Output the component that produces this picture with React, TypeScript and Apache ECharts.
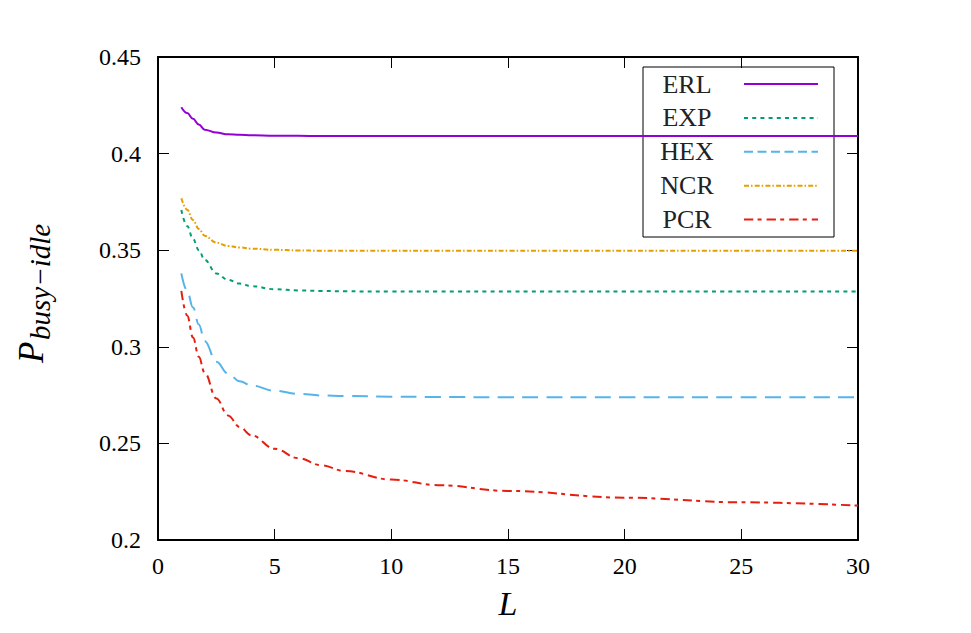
import React, { useEffect, useRef } from "react";
import * as echarts from "echarts";

const L = [1, 1.25, 1.5, 1.75, 2, 2.5, 3, 3.5, 4, 5, 6, 7, 8, 10, 12, 15, 20, 25, 30];
const ERL = [0.424, 0.421, 0.418, 0.415, 0.4124, 0.4109, 0.41, 0.4097, 0.4095, 0.4093, 0.4092, 0.4091, 0.4091, 0.4091, 0.4091, 0.4091, 0.4091, 0.4091, 0.4091];
const EXP = [0.3708, 0.3625, 0.3558, 0.35, 0.345, 0.338, 0.3347, 0.3327, 0.3314, 0.3298, 0.3292, 0.3289, 0.3287, 0.3286, 0.3286, 0.3286, 0.3286, 0.3286, 0.3286];
const HEX = [0.338, 0.329, 0.3203, 0.3115, 0.303, 0.2922, 0.2862, 0.2822, 0.28, 0.2772, 0.2757, 0.2748, 0.2745, 0.2742, 0.274, 0.2739, 0.2739, 0.2739, 0.2739];
const NCR = [0.3769, 0.371, 0.3656, 0.361, 0.3575, 0.3539, 0.3522, 0.3514, 0.3508, 0.3502, 0.3499, 0.3497, 0.3497, 0.3497, 0.3497, 0.3497, 0.3497, 0.3497, 0.3497];
const PCR = [0.3289, 0.3162, 0.3048, 0.2948, 0.2865, 0.2733, 0.2645, 0.2585, 0.2542, 0.2472, 0.2424, 0.2387, 0.2357, 0.2313, 0.2284, 0.2254, 0.2219, 0.2195, 0.2178];

const NAMES = ["ERL", "EXP", "HEX", "NCR", "PCR"];
const VALUES = [ERL, EXP, HEX, NCR, PCR];
const COLORS = ["#9400d3", "#009e73", "#56b4e9", "#e69f00", "#e51e10"];
const DASHES: (number[] | "solid")[] = ["solid", [4, 4.2], [16, 8.3], [5, 2, 1.5, 2.2], [9.3, 4.3, 4, 5]];
const LEGEND_DASHES: (number[] | null)[] = [null, [4, 4.2], [9, 4.5], [5, 2, 1.5, 2.2], [9.3, 4.3, 4, 5]];

const X_MIN = 0, X_MAX = 30, X_STEP = 5;
const Y_MIN = 0.2, Y_MAX = 0.45, Y_STEP = 0.05;

const FONT = "Liberation Serif";

export default function App() {
  const ref = useRef<HTMLDivElement>(null);
  useEffect(() => {
    if (!ref.current) return;
    const chart = echarts.init(ref.current, undefined, { renderer: "svg" });
    const axisLine = { show: true, onZero: false, lineStyle: { color: "#000", width: 2 } };
    const axisTick = { show: true, inside: true, length: 11, lineStyle: { color: "#000", width: 1 } };
    const label = { color: "#000", fontFamily: FONT, fontSize: 24 };

    const legendItems: any[] = [];
    NAMES.forEach((n, i) => {
      const y = 84 + i * 33.9;
      legendItems.push({
        type: "text",
        x: 687,
        y: y,
        style: { text: n, fontFamily: FONT, fontSize: 26, fill: "#222", align: "center", verticalAlign: "middle" },
      });
      legendItems.push({
        type: "line",
        shape: { x1: 744, y1: y, x2: 818, y2: y },
        style: { stroke: COLORS[i], lineWidth: 2, lineDash: LEGEND_DASHES[i] || undefined },
      });
    });

    chart.setOption({
      animation: false,
      backgroundColor: "#fff",
      textStyle: { fontFamily: FONT },
      grid: { left: 158, right: 113, top: 57, bottom: 93 },
      xAxis: [
        {
          type: "value", min: X_MIN, max: X_MAX, interval: X_STEP, position: "bottom",
          axisLine, axisTick, splitLine: { show: false },
          axisLabel: { ...label, margin: 14 },
          name: "L", nameLocation: "middle", nameGap: 46,
          nameTextStyle: { fontFamily: FONT, fontSize: 34, fontStyle: "italic", color: "#000" },
        },
        {
          type: "value", min: X_MIN, max: X_MAX, interval: X_STEP, position: "top",
          axisLine, axisTick, splitLine: { show: false }, axisLabel: { show: false },
        },
      ],
      yAxis: [
        {
          type: "value", min: Y_MIN, max: Y_MAX, interval: Y_STEP, position: "left",
          axisLine, axisTick, splitLine: { show: false },
          axisLabel: { ...label, margin: 17 },
        },
        {
          type: "value", min: Y_MIN, max: Y_MAX, interval: Y_STEP, position: "right",
          axisLine, axisTick, splitLine: { show: false }, axisLabel: { show: false },
        },
      ],
      series: NAMES.map((n, i) => ({
        name: n,
        type: "line",
        xAxisIndex: 0,
        yAxisIndex: 0,
        data: L.map((x, j) => [x, VALUES[i][j]]),
        symbol: "none",
        showSymbol: false,
        smooth: 0.4,
        smoothMonotone: "x",
        lineStyle: { color: COLORS[i], width: 2, type: DASHES[i] },
        itemStyle: { color: COLORS[i] },
      })),
      graphic: [
        {
          type: "rect",
          shape: { x: 643, y: 67, width: 191, height: 170 },
          style: { fill: "none", stroke: "#000", lineWidth: 1 },
        },
        ...legendItems,
        {
          type: "group",
          x: 31,
          y: 363,
          rotation: Math.PI / 2,
          children: [
            {
              type: "text", x: 0, y: 0,
              style: { text: "P", fontFamily: FONT, fontSize: 35, fontStyle: "italic", fill: "#000", align: "left", verticalAlign: "middle" },
            },
            {
              type: "text", x: 23, y: 9,
              style: { text: "busy−idle", fontFamily: FONT, fontSize: 29, fontStyle: "italic", fill: "#000", align: "left", verticalAlign: "middle" },
            },
          ],
        },
      ],
    });
    return () => chart.dispose();
  }, []);
  return <div ref={ref} style={{ position: "fixed", left: 0, top: 0, width: 971, height: 633, background: "#fff" }} />;
}
